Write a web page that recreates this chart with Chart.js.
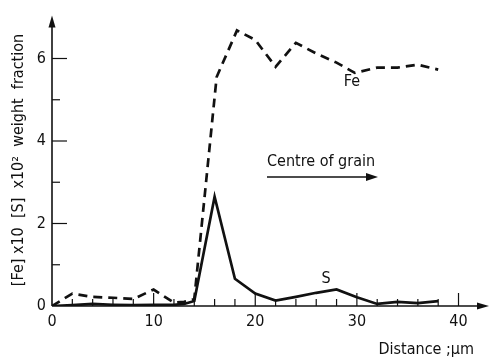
<!DOCTYPE html>
<html>
<head>
<meta charset="utf-8">
<script src="https://cdn.jsdelivr.net/npm/chart.js@4/dist/chart.umd.min.js"></script>
<style>
  html, body { margin: 0; padding: 0; background: #fff; }
  #wrap { width: 495px; height: 364px; position: relative; }
</style>
</head>
<body>
<div id="wrap"><canvas id="chart"></canvas></div>
<script>
// Distance along the scan (um)
const feDistance = [0, 2, 4, 6, 8, 10, 12, 13, 14, 16.2, 18.2, 20, 22, 24, 26, 28, 29.8, 32, 34, 36, 38];
const sDistance = [0, 2, 4, 6, 8, 10, 12, 13, 14, 16, 18, 20, 22, 24, 26, 28, 30, 32, 34, 36, 38];
// [Fe] x10 weight fraction x10^2 (dashed)
const feValues = [0, 0.3, 0.22, 0.2, 0.17, 0.4, 0.08, 0.1, 0.17, 5.55, 6.68, 6.45, 5.8, 6.38, 6.12, 5.9, 5.65, 5.78, 5.78, 5.85, 5.73];
// [S] weight fraction x10^2 (solid)
const sValues = [0, 0.02, 0.05, 0.03, 0.02, 0.03, 0.03, 0.05, 0.12, 2.65, 0.66, 0.3, 0.13, 0.22, 0.32, 0.4, 0.21, 0.05, 0.1, 0.07, 0.12];
const xLabels = [0, 10, 20, 30, 40];
const yLabels = [0, 2, 4, 6];

const FONT = "'Liberation Sans Narrow', 'DejaVu Sans Condensed', 'Liberation Sans', sans-serif";
const INK = '#111';

Chart.defaults.font.family = FONT;
Chart.defaults.font.size = 16;
Chart.defaults.color = INK;

// axes with arrows, inside ticks and the hand-lettered labels
const axesPlugin = {
    id: 'axes',
    afterDatasetsDraw(chart) {
        const ctx = chart.ctx;
        const x = chart.scales.x, y = chart.scales.y;
        const x0 = x.getPixelForValue(0), y0 = y.getPixelForValue(0);
        ctx.save();
        ctx.strokeStyle = INK;
        ctx.fillStyle = INK;
        ctx.lineWidth = 1.6;

        // y axis + arrow
        ctx.beginPath();
        ctx.moveTo(x0, y0);
        ctx.lineTo(x0, y.top + 8);
        ctx.stroke();
        ctx.beginPath();
        ctx.moveTo(x0, y.top);
        ctx.lineTo(x0 - 3.5, y.top + 12);
        ctx.lineTo(x0 + 3.5, y.top + 12);
        ctx.closePath();
        ctx.fill();

        // x axis + arrow
        ctx.beginPath();
        ctx.moveTo(x0, y0);
        ctx.lineTo(x.right - 8, y0);
        ctx.stroke();
        ctx.beginPath();
        ctx.moveTo(x.right, y0);
        ctx.lineTo(x.right - 12, y0 - 3.5);
        ctx.lineTo(x.right - 12, y0 + 3.5);
        ctx.closePath();
        ctx.fill();

        // inside ticks
        ctx.lineWidth = 1.2;
        y.ticks.forEach(t => {
            if (t.value <= 0 || t.value > 6) return;
            const py = y.getPixelForValue(t.value);
            const len = t.value % 2 === 0 ? 15 : 8;
            ctx.beginPath();
            ctx.moveTo(x0, py);
            ctx.lineTo(x0 + len, py);
            ctx.stroke();
        });
        x.ticks.forEach(t => {
            if (t.value <= 0 || t.value > 40) return;
            const px = x.getPixelForValue(t.value);
            const len = t.value % 10 === 0 ? 13 : 7;
            ctx.beginPath();
            ctx.moveTo(px, y0);
            ctx.lineTo(px, y0 - len);
            ctx.stroke();
        });

        // labels
        ctx.font = '16px ' + FONT;
        ctx.textBaseline = 'middle';
        ctx.textAlign = 'center';
        ctx.fillText('Fe', 352, 82);
        ctx.fillText('S', 326, 279);
        ctx.textAlign = 'left';
        ctx.fillText('Centre of grain', 267, 162);
        ctx.textAlign = 'right';
        ctx.fillText('Distance ;\u03bcm', 474, 350);

        // centre of grain arrow
        ctx.lineWidth = 1.3;
        ctx.beginPath();
        ctx.moveTo(267, 177);
        ctx.lineTo(368, 177);
        ctx.stroke();
        ctx.beginPath();
        ctx.moveTo(378, 177);
        ctx.lineTo(366, 173);
        ctx.lineTo(366, 181);
        ctx.closePath();
        ctx.fill();

        // y title
        ctx.translate(19, 160);
        ctx.rotate(-Math.PI / 2);
        ctx.textAlign = 'center';
        ctx.fillText('[Fe] x10  [S]  x10\u00b2  weight  fraction', 0, 0);
        ctx.restore();
    }
};

const toPoints = (xs, vals) => vals.map((v, i) => ({ x: xs[i], y: v }));

new Chart(document.getElementById('chart'), {
    type: 'line',
    data: {
        datasets: [
            {
                label: 'Fe',
                data: toPoints(feDistance, feValues),
                borderColor: INK,
                borderWidth: 2.7,
                borderDash: [9, 6],
                pointRadius: 0,
                tension: 0,
                fill: false
            },
            {
                label: 'S',
                data: toPoints(sDistance, sValues),
                borderColor: INK,
                borderWidth: 2.7,
                pointRadius: 0,
                tension: 0,
                fill: false
            }
        ]
    },
    options: {
        responsive: true,
        maintainAspectRatio: false,
        animation: false,
        layout: { padding: { top: 9, right: 1, left: 0, bottom: 0 } },
        plugins: { legend: { display: false }, tooltip: { enabled: false } },
        scales: {
            x: {
                type: 'linear',
                min: 0,
                max: 43,
                border: { display: false },
                grid: { display: false, drawTicks: false },
                afterFit: s => { s.height = 58; },
                ticks: {
                    stepSize: 2,
                    padding: 6,
                    maxRotation: 0,
                    autoSkip: false,
                    callback: v => xLabels.includes(v) ? String(v) : ''
                }
            },
            y: {
                min: 0,
                max: 7.04,
                border: { display: false },
                grid: { display: false, drawTicks: false },
                afterFit: s => { s.width = 52; },
                ticks: {
                    stepSize: 1,
                    padding: 6,
                    autoSkip: false,
                    callback: v => yLabels.includes(v) ? String(v) : ''
                }
            }
        }
    },
    plugins: [axesPlugin]
});
</script>
</body>
</html>
